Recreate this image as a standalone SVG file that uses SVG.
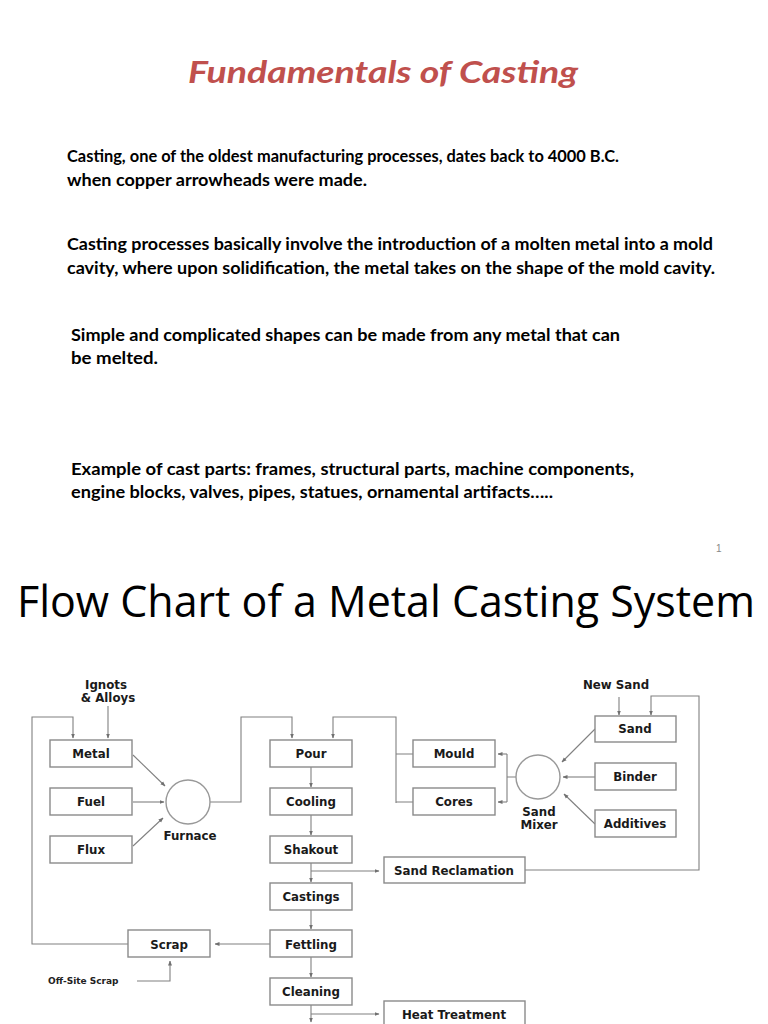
<svg xmlns="http://www.w3.org/2000/svg" width="768" height="1024" viewBox="0 0 768 1024">
<style>
.title{font-family:Lato,"Open Sans","Liberation Sans",sans-serif;font-weight:bold;font-style:italic;font-size:31px;fill:#c0504d}
.body{font-family:Lato,"Open Sans","Liberation Sans",sans-serif;font-weight:bold;font-size:17px;fill:#000}
.big{font-family:"Open Sans",Lato,"Liberation Sans",sans-serif;font-size:43px;fill:#000}
.pg{font-family:"Liberation Sans",sans-serif;font-size:10px;fill:#888}
.box{fill:#fff;stroke:#8a8a8a;stroke-width:1.4}
.circ{fill:#fff;stroke:#999;stroke-width:1.4}
.lbl{font-family:"DejaVu Sans","Liberation Sans",sans-serif;font-weight:bold;font-size:11.8px;fill:#1a1a1a;text-anchor:middle}
.sm{font-family:"DejaVu Sans","Liberation Sans",sans-serif;font-weight:bold;font-size:9px;fill:#222}
.con{fill:none;stroke:#808080;stroke-width:1.1}
</style>
<defs>
<marker id="ah" viewBox="0 0 10 10" refX="9" refY="5" markerWidth="5" markerHeight="5" orient="auto" markerUnits="userSpaceOnUse">
<path d="M0,1 L10,5 L0,9 z" fill="#707070"/>
</marker>
</defs>
<rect width="768" height="1024" fill="#fff"/>

<text class="title" x="383" y="83" text-anchor="middle" textLength="390" lengthAdjust="spacingAndGlyphs">Fundamentals of Casting</text>

<g id="paragraphs">
<text class="body" x="67" y="162" textLength="552" lengthAdjust="spacingAndGlyphs">Casting, one of the oldest manufacturing processes, dates back to 4000 B.C.</text>
<text class="body" x="67" y="186" textLength="300" lengthAdjust="spacingAndGlyphs">when copper arrowheads were made.</text>
<text class="body" x="67" y="250" textLength="646" lengthAdjust="spacingAndGlyphs">Casting processes basically involve the introduction of a molten metal into a mold</text>
<text class="body" x="67" y="274" textLength="648" lengthAdjust="spacingAndGlyphs">cavity, where upon solidification, the metal takes on the shape of the mold cavity.</text>
<text class="body" x="71" y="341" textLength="549" lengthAdjust="spacingAndGlyphs">Simple and complicated shapes can be made from any metal that can</text>
<text class="body" x="71" y="364" textLength="87" lengthAdjust="spacingAndGlyphs">be melted.</text>
<text class="body" x="71" y="475" textLength="563" lengthAdjust="spacingAndGlyphs">Example of cast parts: frames, structural parts, machine components,</text>
<text class="body" x="71" y="498" textLength="482" lengthAdjust="spacingAndGlyphs">engine blocks, valves, pipes, statues, ornamental artifacts…..</text>
</g>

<text class="pg" x="716" y="552">1</text>
<text class="big" x="17" y="617" textLength="738" lengthAdjust="spacingAndGlyphs">Flow Chart of a Metal Casting System</text>

<g id="connectors">
<path class="con" d="M108 706 V738" marker-end="url(#ah)"/>
<path class="con" d="M128 944 H32 V717 H73 V738" marker-end="url(#ah)"/>
<path class="con" d="M133 755 L165 786" marker-end="url(#ah)"/>
<path class="con" d="M133 802 L164 802" marker-end="url(#ah)"/>
<path class="con" d="M133 846 L163 818" marker-end="url(#ah)"/>
<path class="con" d="M210 802 H241 V717 H292 V738" marker-end="url(#ah)"/>
<path class="con" d="M311 767 V787" marker-end="url(#ah)"/>
<path class="con" d="M311 815 V835" marker-end="url(#ah)"/>
<path class="con" d="M311 863 V882" marker-end="url(#ah)"/>
<path class="con" d="M311 910 V929" marker-end="url(#ah)"/>
<path class="con" d="M311 957 V977" marker-end="url(#ah)"/>
<path class="con" d="M311 1005 V1022" marker-end="url(#ah)"/>
<path class="con" d="M311 871 H379" marker-end="url(#ah)"/>
<path class="con" d="M311 1014 H379" marker-end="url(#ah)"/>
<path class="con" d="M270 944 H215" marker-end="url(#ah)"/>
<path class="con" d="M137 981 H170 V961" marker-end="url(#ah)"/>
<path class="con" d="M413 754 H396 M413 802 H396"/>
<path class="con" d="M396 803 V717 H333 V738" marker-end="url(#ah)"/>
<path class="con" d="M516 777 H507 M507 754 V802"/>
<path class="con" d="M507 754 H498" marker-end="url(#ah)"/>
<path class="con" d="M507 802 H498" marker-end="url(#ah)"/>
<path class="con" d="M595 729 L562 762" marker-end="url(#ah)"/>
<path class="con" d="M595 777 L563 777" marker-end="url(#ah)"/>
<path class="con" d="M595 824 L564 794" marker-end="url(#ah)"/>
<path class="con" d="M619 697 V715" marker-end="url(#ah)"/>
<path class="con" d="M525 870 H699 V696 H651 V715" marker-end="url(#ah)"/>
</g>

<g id="ingots"><text class="lbl" x="106" y="689">Ignots</text><text class="lbl" x="108" y="702">&amp; Alloys</text></g>
<g id="newsand"><text class="lbl" x="616" y="689">New Sand</text></g>

<g id="metal"><rect class="box" x="50" y="740" width="82" height="27"/><text class="lbl" x="91" y="758">Metal</text></g>
<g id="fuel"><rect class="box" x="50" y="788" width="82" height="27"/><text class="lbl" x="91" y="806">Fuel</text></g>
<g id="flux"><rect class="box" x="50" y="836" width="82" height="27"/><text class="lbl" x="91" y="854">Flux</text></g>
<g id="furnace"><circle class="circ" cx="188" cy="802" r="22"/><text class="lbl" x="190" y="840">Furnace</text></g>

<g id="pour"><rect class="box" x="270" y="740" width="82" height="27"/><text class="lbl" x="311" y="758">Pour</text></g>
<g id="cooling"><rect class="box" x="270" y="788" width="82" height="27"/><text class="lbl" x="311" y="806">Cooling</text></g>
<g id="shakout"><rect class="box" x="270" y="836" width="82" height="27"/><text class="lbl" x="311" y="854">Shakout</text></g>
<g id="castings"><rect class="box" x="270" y="883" width="82" height="27"/><text class="lbl" x="311" y="901">Castings</text></g>
<g id="fettling"><rect class="box" x="270" y="930" width="82" height="27"/><text class="lbl" x="311" y="949">Fettling</text></g>
<g id="cleaning"><rect class="box" x="270" y="978" width="82" height="27"/><text class="lbl" x="311" y="996">Cleaning</text></g>

<g id="scrap"><rect class="box" x="128" y="930" width="82" height="27"/><text class="lbl" x="169" y="949">Scrap</text></g>
<g id="offsite"><text class="sm" x="48" y="984">Off-Site Scrap</text></g>

<g id="mould"><rect class="box" x="413" y="740" width="82" height="27"/><text class="lbl" x="454" y="758">Mould</text></g>
<g id="cores"><rect class="box" x="413" y="788" width="82" height="27"/><text class="lbl" x="454" y="806">Cores</text></g>
<g id="sandmixer"><circle class="circ" cx="538" cy="777" r="22"/><text class="lbl" x="539" y="816">Sand</text><text class="lbl" x="539" y="829">Mixer</text></g>

<g id="sand"><rect class="box" x="595" y="716" width="81" height="26"/><text class="lbl" x="635" y="733">Sand</text></g>
<g id="binder"><rect class="box" x="595" y="763" width="81" height="27"/><text class="lbl" x="635" y="781">Binder</text></g>
<g id="additives"><rect class="box" x="595" y="810" width="81" height="27"/><text class="lbl" x="635" y="828">Additives</text></g>

<g id="sandreclamation"><rect class="box" x="384" y="857" width="141" height="26"/><text class="lbl" x="454" y="875">Sand Reclamation</text></g>
<g id="heattreatment"><rect class="box" x="384" y="1001" width="141" height="27"/><text class="lbl" x="454" y="1019">Heat Treatment</text></g>
</svg>
